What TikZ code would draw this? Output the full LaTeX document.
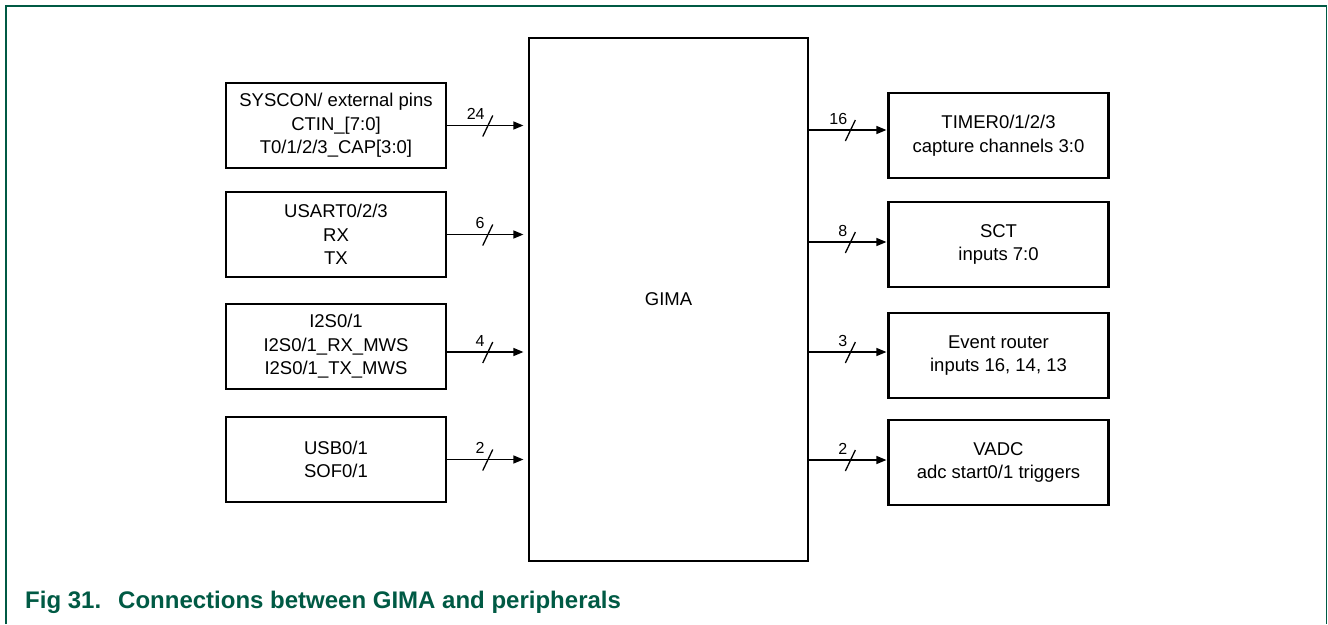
\documentclass[tikz,border=0pt]{standalone}
\usepackage{fontspec}
\setmainfont{Liberation Sans}
\usetikzlibrary{arrows.meta,calc}
\definecolor{nxpgreen}{RGB}{0,90,68}
\newcommand\busmark[2]{%
  \draw[slashline] ($(#1)+(-5,11)$) -- ($(#1)+(5,-10)$);
  \node[buslabel] (#1lab) at ($(#1)+(-3,-6)$) {#2};}
\begin{document}
\begin{tikzpicture}[x=1pt,y=-1pt,
  periph/.style={draw, line width=2.2pt, minimum width=220pt, minimum height=85pt,
    align=center, inner sep=0pt, font=\fontsize{18.5}{23.5}\selectfont},
  core/.style={draw, line width=1.2pt, minimum width=279pt, minimum height=523pt,
    font=\fontsize{18.5}{23.5}\selectfont},
  sig/.style={line width=1.3pt, -{Triangle[length=10pt,width=8pt]}},
  slashline/.style={line width=1.3pt},
  buslabel/.style={anchor=base east, inner sep=0pt, font=\fontsize{16}{16}\selectfont},
  caption/.style={anchor=base west, inner sep=0pt, text=nxpgreen,
    font=\bfseries\fontsize{24}{24}\selectfont}]
\useasboundingbox (0,0) rectangle (1328,624);
\draw[nxpgreen, line width=1.5pt] (6,624) -- (6,6) -- (1326.5,6) -- (1326.5,624);

\node[core] (gima) at (668.5,299.5) {GIMA};

% left peripherals
\node[periph] (sys) at (336,125.5) {SYSCON/ external pins\\CTIN\_[7:0]\\T0/1/2/3\_CAP[3:0]};
\node[periph] (usart) at (336,234.5) {USART0/2/3\\RX\\TX};
\node[periph] (i2s) at (336,346.5) {I2S0/1\\I2S0/1\_RX\_MWS\\I2S0/1\_TX\_MWS};
\node[periph] (usb) at (336,459.5) {USB0/1\\SOF0/1};

% right peripherals
\node[periph] (tim) at (998.5,135.5) {TIMER0/1/2/3\\capture channels 3:0};
\node[periph] (sct) at (998.5,244.5) {SCT\\inputs 7:0};
\node[periph] (evr) at (998.5,355.5) {Event router\\inputs 16, 14, 13};
\node[periph] (vadc) at (998.5,462.5) {VADC\\adc start0/1 triggers};

% left connections
\draw[sig, shorten >=5pt] (sys.east) -- (sys.east -| gima.west) coordinate[pos=0.5] (b1);
\busmark{b1}{24}
\draw[sig, shorten >=5pt] (usart.east) -- (usart.east -| gima.west) coordinate[pos=0.5] (b2);
\busmark{b2}{6}
\coordinate (i2sout) at ($(i2s.east)+(0,5.5)$);
\draw[sig, shorten >=5pt] (i2sout) -- (i2sout -| gima.west) coordinate[pos=0.5] (b3);
\busmark{b3}{4}
\draw[sig, shorten >=5pt] (usb.east) -- (usb.east -| gima.west) coordinate[pos=0.5] (b4);
\busmark{b4}{2}

% right connections
\coordinate (timin) at ($(tim.west)+(0,-5.5)$);
\draw[sig, shorten >=1pt] (gima.east |- timin) -- (timin) coordinate[pos=0.53] (r1);
\busmark{r1}{16}
\coordinate (sctin) at ($(sct.west)+(0,-2.5)$);
\draw[sig, shorten >=1pt] (gima.east |- sctin) -- (sctin) coordinate[pos=0.53] (r2);
\busmark{r2}{8}
\coordinate (evrin) at ($(evr.west)+(0,-3.5)$);
\draw[sig, shorten >=1pt] (gima.east |- evrin) -- (evrin) coordinate[pos=0.53] (r3);
\busmark{r3}{3}
\coordinate (vadcin) at ($(vadc.west)+(0,-2.5)$);
\draw[sig, shorten >=1pt] (gima.east |- vadcin) -- (vadcin) coordinate[pos=0.53] (r4);
\busmark{r4}{2}

% caption
\node[caption] (figno) at (25,608) {Fig 31.};
\node[caption] (figtitle) at (118,608) {Connections between GIMA and peripherals};
\end{tikzpicture}
\end{document}
